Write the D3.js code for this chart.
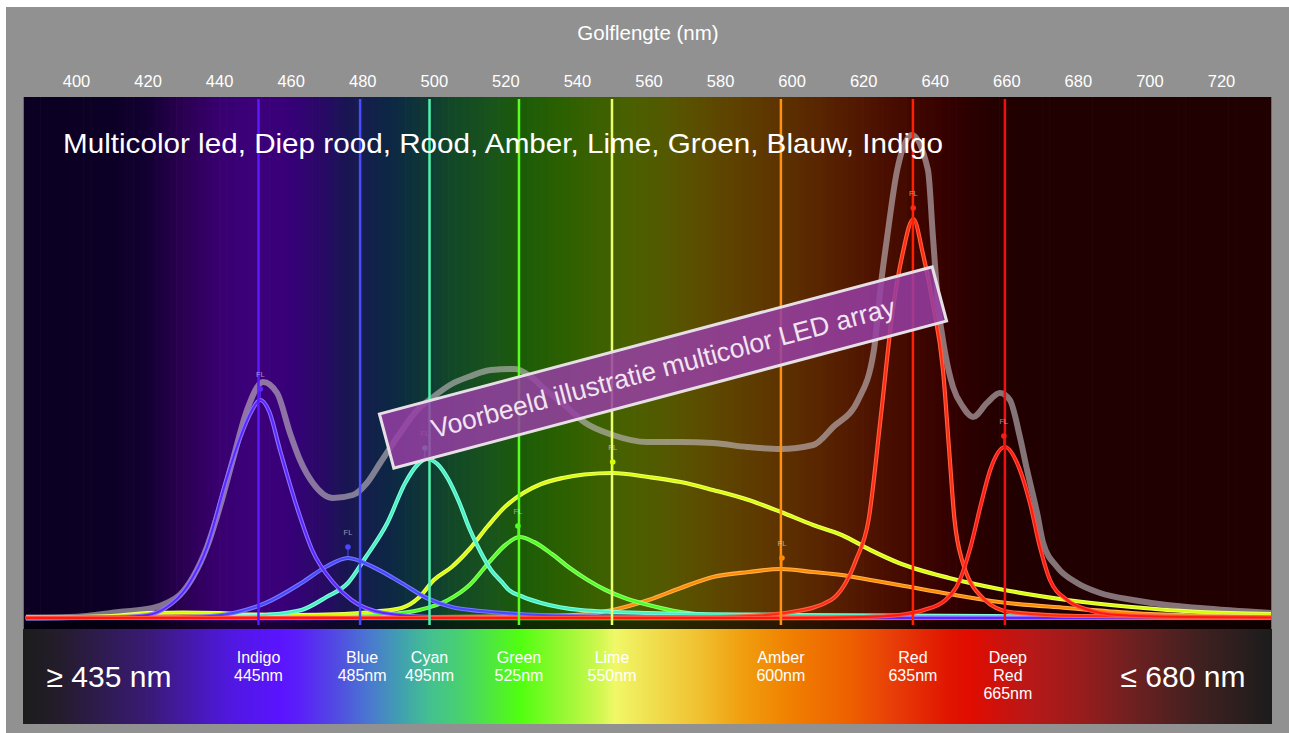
<!DOCTYPE html>
<html>
<head>
<meta charset="utf-8">
<script src="https://cdn.jsdelivr.net/npm/d3@7"></script>
<style>
  body { margin: 0; background: #fff; }
  svg text { font-family: "Liberation Sans", Arial, Helvetica, sans-serif; }
</style>
</head>
<body>
<script>
var w = 1289;
var h = 733;

// axis
var tickValues = [400, 420, 440, 460, 480, 500, 520, 540, 560, 580, 600, 620, 640, 660, 680, 700, 720];

// LEDs: bottom-bar labels, vertical marker lines, peak markers
var ledLabels = [["Indigo", "445nm"], ["Blue", "485nm"], ["Cyan", "495nm"], ["Green", "525nm"],
                 ["Lime", "550nm"], ["Amber", "600nm"], ["Red", "635nm"], ["Deep", "Red", "665nm"]];
var lineNm = [451, 479.4, 498.8, 523.8, 549.8, 597, 633.9, 659.6];
var peakNm = [451.5, 476, 497.5, 523.5, 550, 597.3, 634, 659.3];
var lineColors = ["#5a1aff", "#4a4aff", "#50f0b0", "#58ff20", "#e8ff70", "#ff9010", "#ff2000", "#ee1010"];
var curveColors = ["#5a28ff", "#4848ff", "#48f0c0", "#50ff20", "#d8ff00", "#ff8c00", "#ff2a10", "#ff1a10"];
var curveEdges = ["#8a70ff", "#7878ff", "#80ffe0", "#90ff70", "#f0ff70", "#ffb050", "#ff6040", "#ff5040"];

// spectra, [wavelength nm, relative intensity]
var indigo = [[386,0.2],[400,0.3],[412,0.4],[420,0.8],[425,2.2],[431,6.4],[436.6,14.4],[442,27.8],[446,36.5],[449,41.5],[451.5,43.8],[454,41.5],[457,33.8],[462,21.8],[466,13.8],[472,7.2],[477,3.8],[486,1.2],[500,0.4],[530,0.2],[734,0.2]];
var blue = [[386,0.1],[420,0.3],[435,0.5],[444,1.2],[453,3.2],[463,7.2],[470,10.5],[476,12.2],[483,10.4],[491,7.2],[498,4.2],[505,2.4],[513,1.6],[524,1],[547,0.5],[580,0.3],[734,0.2]];
var cyan = [[386,0.2],[440,0.4],[453,0.8],[463,1.8],[470,4.4],[476,7.2],[481,12.4],[487,19.2],[492,27.2],[495,30.5],[498,32],[501,31],[504,28],[507,23.5],[510,18],[513,13.5],[516,9.8],[519,7.4],[521,5.8],[525,4.4],[530,3.2],[541,1.8],[560,1.2],[600,0.8],[680,0.5],[734,0.4]];
var green = [[386,0.2],[470,0.3],[485,0.8],[496,1.8],[504,3.8],[510,6.8],[516,11.8],[520,14.8],[524,16.4],[528,15.4],[533,13],[538,10.2],[543,7.8],[548,5.8],[553,4.3],[560,2.8],[569,1.4],[583,0.6],[620,0.3],[734,0.2]];
var lime = [[386,0.3],[410,0.6],[420,1.2],[430,1.3],[440,1.2],[448,0.9],[460,0.8],[475,1.0],[484,1.5],[491,2.2],[496,4.4],[500,7.8],[505,10.4],[510,14],[515,18.5],[520,22.5],[525,25.2],[530,27],[536,28.2],[542,28.9],[550,29.2],[560,28.4],[569,27.4],[578,25.8],[588,23.8],[597,21.4],[606,18.8],[614,16.8],[622,13.8],[630,11.2],[644,8.2],[658,6],[677,3.8],[695,2.4],[714,1.4],[734,1]];
var amber = [[386,0.3],[430,0.5],[450,0.4],[500,0.4],[520,0.5],[530,0.6],[541,0.9],[550,1.8],[560,3.8],[569,6.2],[578,8.4],[588,9.4],[597,10],[606,9.4],[614,8.8],[622,7.8],[630,6.8],[644,5],[658,3.4],[677,2.2],[695,1.2],[734,0.4]];
var red = [[386,0.2],[560,0.2],[585,0.5],[600,1.4],[611,3.8],[618,11.8],[621.5,19.8],[625,41],[628.3,62],[631,73],[634,80],[636.7,73],[639.5,63],[642.3,49.8],[644,34],[645.5,20],[647.6,11.8],[654,3.8],[661,1.4],[680,0.6],[734,0.3]];
var deepRed = [[386,0.2],[600,0.2],[620,0.4],[630,0.8],[637,1.8],[643,3.8],[647,7.8],[650,14.4],[653,23.2],[655.5,29.8],[659.6,34.4],[663.8,29.8],[666.6,23.2],[669.4,14.4],[672.2,7.8],[677,3.8],[683,1.8],[691,0.8],[710,0.4],[734,0.3]];
var combined = [[386,0.3],[398,0.4],[403,0.6],[412,1.4],[421.5,2.2],[425.4,3.2],[429,4.8],[432.7,8.4],[436.6,14.4],[440.2,22.4],[443.9,32],[447.8,41.8],[452.3,47.4],[456.2,45.2],[459.8,37.2],[462.6,31.8],[466.2,27.2],[471.8,24.2],[477.4,24.8],[481.3,27.2],[485,31.2],[490.6,37.2],[495,41.5],[499.8,44.4],[505,47],[510,48.5],[516,49.8],[522.7,50],[527,48.5],[531,46],[537,42.5],[542,39.4],[550,36.8],[559.6,35.4],[568.8,35.4],[578,35.2],[587.5,34.4],[596.8,34],[606,34.8],[611.6,38.4],[618.6,43.8],[623,53.8],[625,67.2],[626.7,76.4],[629.5,89.8],[633.6,96.8],[638.1,89.8],[639.5,76.4],[640.9,63.2],[642.9,53.2],[645.1,46.4],[647.9,42.4],[650.7,40.4],[654.6,43.2],[658.2,45.2],[661,43.8],[663.8,36.4],[665.8,29.8],[668.6,21.2],[670.3,15.2],[674.2,10.4],[679.8,7.2],[686.2,5.2],[695.4,3.8],[704.9,2.8],[714.1,2.2],[734,1.2]];

var series = [indigo, blue, cyan, green, lime, amber, red, deepRed];
var drawOrder = [4, 5, 3, 2, 1, 0, 6, 7];

// background colour stops (nm, colour)
var bgNm = [386, 410, 420, 430, 440, 450, 460, 468, 475, 482, 490, 498, 505, 515, 525, 535, 545, 555, 565, 575, 585, 595, 605, 615, 625, 635, 645, 655, 665, 735];
var bgCol = ["#0b0022", "#0c0026", "#130032", "#2a0052", "#380070", "#3c007a", "#370078", "#2a0868", "#1a1455", "#12204a", "#0c2a42", "#0f3a34", "#124828", "#18521c", "#1c5c08", "#2a6000", "#3a6000", "#4a6000", "#545800", "#5c4c00", "#5e4000", "#5e3400", "#5a2800", "#541c00", "#4c1000", "#400600", "#320000", "#260000", "#200000", "#200000"];
var barNm = [385, 395.5, 420.7, 443, 457, 462.6, 473.8, 482, 490.6, 499, 507.3, 518.5, 524, 535, 546.5, 550.6, 560.4, 574.4, 585.6, 599.6, 616.3, 627.5, 644.3, 650, 666.6, 680.6, 694.6, 714.1, 734.3];
var barCol = ["#1c1c1c", "#241c2c", "#3a1a78", "#5018e0", "#5a14ff", "#5a20f8", "#5050e0", "#4a78d0", "#40a0b0", "#44c090", "#48d070", "#50ee30", "#50ff10", "#90f830", "#d0f850", "#f0f868", "#f0e050", "#f0c030", "#f0a010", "#f08000", "#ee6000", "#e84008", "#e01400", "#e00c00", "#b81818", "#9a1c1c", "#702020", "#402020", "#1c1c1c"];

var plotL = 23, plotR = 1272, plotT = 97, plotB = 629, barB = 724;

var x = d3.scaleLinear().domain([400, 720]).range([76, 1221]);
var y = d3.scaleLinear().domain([0, 100]).range([619, 119]);

var svg = d3.select("body").append("svg").attr("width", w).attr("height", h);

svg.append("rect").attr("x", 6).attr("y", 7).attr("width", w - 6).attr("height", h - 7).attr("fill", "#919191");

// axis title and ticks
svg.append("text").text("Golflengte (nm)")
   .attr("x", 648).attr("y", 40).attr("text-anchor", "middle")
   .attr("font-size", "20.5px").attr("fill", "#fff");

var axis = svg.append("g").attr("transform", "translate(0,87)")
   .call(d3.axisTop(x).tickValues(tickValues).tickSize(0).tickPadding(0));
axis.select(".domain").remove();
axis.selectAll("text").attr("fill", "#fff").attr("font-size", "16.5px")
   .attr("font-family", "Liberation Sans, Arial, sans-serif");

// spectrum background, banded
var bgScale = d3.scaleLinear().domain(bgNm).range(bgCol);
var bands = d3.range(384, 736, 2);
svg.selectAll("rect.band")
   .data(bands)
   .enter()
   .append("rect")
   .attr("class", "band")
   .attr("x", function(d) { return Math.max(plotL, x(d)); })
   .attr("y", plotT)
   .attr("width", function(d) { return Math.min(plotR, x(d + 2) + 0.6) - Math.max(plotL, x(d)); })
   .attr("height", plotB - plotT)
   .attr("fill", function(d) { return bgScale(d + 1); });
svg.append("rect").attr("x", plotL).attr("y", 621).attr("width", plotR - plotL).attr("height", plotB - 621)
   .attr("fill", "#000").attr("opacity", 0.55);
svg.append("line").attr("x1", plotL + 0.5).attr("x2", plotL + 0.5).attr("y1", plotT).attr("y2", plotB)
   .attr("stroke", "#8a6a20").attr("stroke-width", 1);
svg.append("line").attr("x1", plotR - 0.5).attr("x2", plotR - 0.5).attr("y1", plotT).attr("y2", plotB)
   .attr("stroke", "#8a6a20").attr("stroke-width", 1);

// bottom colour bar
var grad = svg.append("defs").append("linearGradient").attr("id", "bar")
   .attr("x1", 0).attr("x2", 1).attr("y1", 0).attr("y2", 0);
grad.selectAll("stop")
   .data(barNm)
   .enter()
   .append("stop")
   .attr("offset", function(d) { return Math.max(0, Math.min(1, (x(d) - plotL) / (plotR - plotL))); })
   .attr("stop-color", function(d, i) { return barCol[i]; });
svg.append("rect").attr("x", plotL).attr("y", plotB).attr("width", plotR - plotL).attr("height", barB - plotB)
   .attr("fill", "url(#bar)");

svg.select("defs").append("clipPath").attr("id", "clip")
   .append("rect").attr("x", plotL).attr("y", plotT).attr("width", plotR - plotL).attr("height", plotB - plotT);
var plot = svg.append("g").attr("clip-path", "url(#clip)");

var line = d3.line()
   .x(function(d) { return x(d[0]); })
   .y(function(d) { return y(d[1]); })
   .curve(d3.curveMonotoneX);

// combined spectrum
plot.append("path").attr("d", line(combined))
   .attr("fill", "none").attr("stroke", "rgb(195,188,192)").attr("stroke-opacity", 0.62)
   .attr("stroke-width", 6).attr("stroke-linejoin", "round");

// individual LEDs
drawOrder.forEach(function(i) {
  plot.append("path").attr("d", line(series[i]))
     .attr("fill", "none").attr("stroke", curveEdges[i]).attr("stroke-width", 4.2);
  plot.append("path").attr("d", line(series[i]))
     .attr("fill", "none").attr("stroke", curveColors[i]).attr("stroke-width", 2);
});

// vertical lines
plot.selectAll("line.led")
   .data(lineNm)
   .enter()
   .append("line")
   .attr("class", "led")
   .attr("x1", function(d) { return x(d); })
   .attr("x2", function(d) { return x(d); })
   .attr("y1", 99)
   .attr("y2", 625)
   .attr("stroke", function(d, i) { return lineColors[i]; })
   .attr("stroke-width", 2.5);

// FL peak markers
peakNm.forEach(function(nm, i) {
  var py = y(d3.max(series[i], function(d) { return d[1]; }));
  var px = x(nm);
  plot.append("line").attr("x1", px).attr("x2", px).attr("y1", py - 11).attr("y2", py - 2)
     .attr("stroke", curveColors[i]).attr("stroke-width", 1);
  plot.append("circle").attr("cx", px).attr("cy", py - 11).attr("r", 2.8).attr("fill", curveColors[i]);
  plot.append("text").text("FL").attr("x", px).attr("y", py - 23)
     .attr("text-anchor", "middle").attr("font-size", "7.5px").attr("fill", "#fff").attr("fill-opacity", 0.55);
});

// title inside plot
svg.append("text").text("Multicolor led, Diep rood, Rood, Amber, Lime, Groen, Blauw, Indigo")
   .attr("x", 63).attr("y", 153).attr("font-size", "28.5px").attr("fill", "#fff")
   .attr("textLength", 880).attr("lengthAdjust", "spacingAndGlyphs");

// bottom bar labels
ledLabels.forEach(function(lab, i) {
  var t = svg.append("text").attr("text-anchor", "middle").attr("font-size", "16px").attr("fill", "#fff");
  lab.forEach(function(s, j) {
    t.append("tspan").text(s).attr("x", x(lineNm[i]) + (i == 7 ? 3 : 0) - (i == 1 ? -2 : 0)).attr("y", 663 + j * 18);
  });
});
svg.append("text").text("\u2265 435 nm").attr("x", 109).attr("y", 687)
   .attr("text-anchor", "middle").attr("font-size", "30px").attr("fill", "#fff");
svg.append("text").text("\u2264 680 nm").attr("x", 1183).attr("y", 687)
   .attr("text-anchor", "middle").attr("font-size", "30px").attr("fill", "#fff");

// banner
var banner = svg.append("g").attr("transform", "translate(663,367.5) rotate(-14.9)");
banner.append("rect").attr("x", -286).attr("y", -28).attr("width", 572).attr("height", 56)
   .attr("fill", "rgb(150,62,165)").attr("fill-opacity", 0.85)
   .attr("stroke", "#e6e0e6").attr("stroke-width", 3);
banner.append("text").text("Voorbeeld illustratie multicolor LED array")
   .attr("x", 0).attr("y", 9.5).attr("text-anchor", "middle")
   .attr("font-size", "26.5px").attr("fill", "#f2e4f2");
</script>
</body>
</html>
